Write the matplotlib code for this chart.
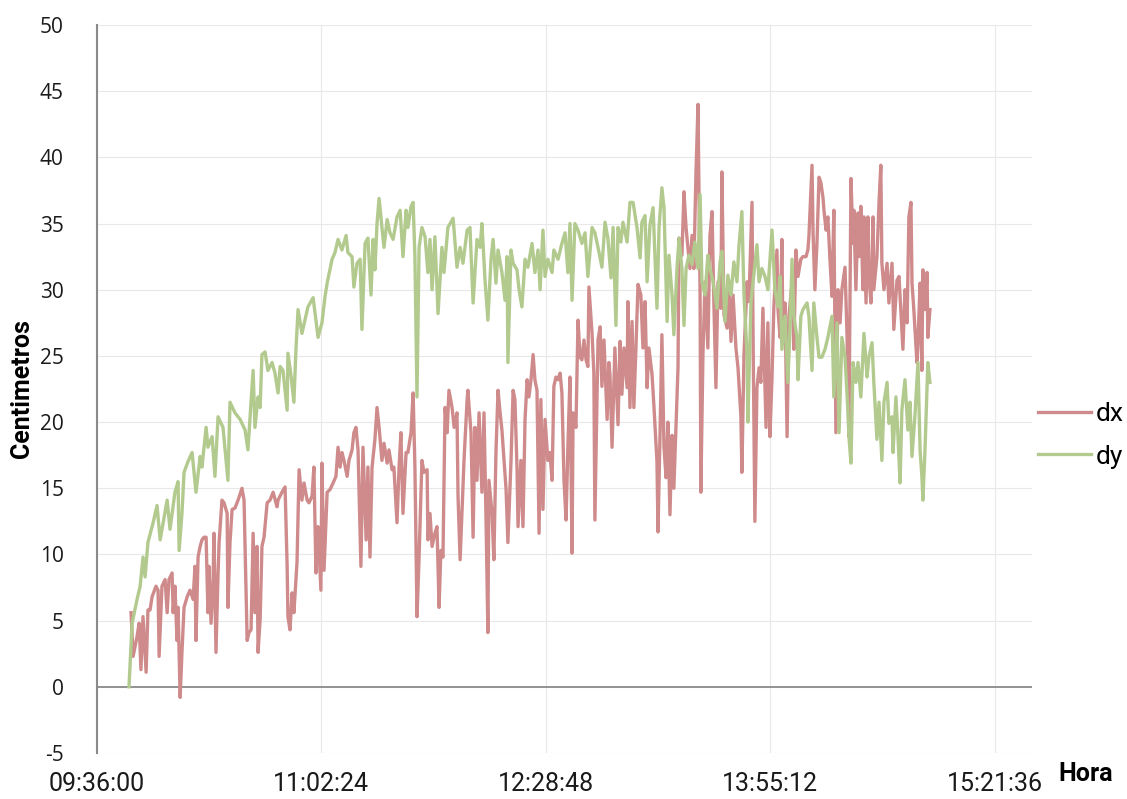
"""
Distances dx / dy (cm) logged over the session, plotted against clock time.
"""
import matplotlib
matplotlib.use("Agg")
import matplotlib.pyplot as plt
from matplotlib.ticker import FuncFormatter, MultipleLocator
from matplotlib.lines import Line2D

plt.rcParams['axes.unicode_minus'] = False

START_SEC = 9 * 3600 + 36 * 60  # 09:36:00, origin of the time axis

# minutes after 09:36:00 and distance in cm
dx_min = [13.1, 13.9, 15.4, 16.2, 16.9, 17.7, 18.9, 19.6, 20.4, 21.2, 22.7, 23.5, 23.9, 25.0, 26.2, 27.0,
          27.7, 28.9, 29.3, 30.0, 30.8, 31.2, 32.0, 32.7, 33.5, 34.7, 35.8, 37.0, 37.7, 38.1, 38.9, 39.7,
          40.4, 41.2, 42.0, 42.7, 43.1, 43.9, 44.7, 45.0, 45.8, 46.6, 47.0, 48.1, 48.9, 50.1, 50.4, 51.2,
          52.0, 53.1, 54.3, 55.8, 56.6, 57.8, 58.5, 59.3, 60.1, 60.8, 61.6, 62.0, 62.8, 63.5, 64.3, 65.5,
          66.6, 67.8, 69.3, 69.7, 71.2, 72.4, 73.2, 73.5, 74.3, 75.1, 75.8, 77.0, 77.8, 78.9, 79.7, 80.9,
          81.6, 82.8, 83.5, 84.3, 85.1, 86.2, 86.6, 87.4, 88.6, 89.7, 90.9, 92.0, 92.8, 93.6, 94.3, 95.1,
          96.3, 97.0, 98.2, 98.9, 99.7, 100.5, 101.6, 102.4, 103.6, 104.3, 105.1, 105.9, 107.0, 107.8,
          108.6, 109.7, 110.5, 111.7, 112.4, 113.6, 114.3, 115.5, 116.3, 117.0, 117.8, 119.0, 119.7,
          120.9, 121.7, 122.4, 123.2, 124.0, 125.1, 125.9, 127.1, 127.4, 128.2, 129.0, 130.1, 130.9,
          131.7, 132.4, 133.2, 134.0, 134.8, 135.5, 136.7, 137.5, 138.6, 139.0, 139.8, 140.5, 141.3,
          142.5, 142.8, 144.0, 144.8, 145.5, 146.3, 147.1, 148.2, 149.0, 149.8, 150.5, 150.9, 152.1,
          152.8, 153.6, 154.4, 155.2, 155.9, 156.7, 157.5, 158.2, 159.4, 160.2, 160.9, 161.7, 162.1,
          163.2, 164.0, 164.8, 165.6, 166.3, 167.1, 167.9, 168.6, 169.4, 170.2, 170.9, 171.7, 172.5,
          173.6, 174.4, 175.2, 175.9, 176.7, 177.5, 178.3, 179.0, 179.8, 180.6, 181.3, 182.1, 182.9,
          183.3, 184.4, 185.2, 186.0, 186.7, 187.5, 188.3, 189.0, 189.4, 190.6, 191.3, 191.7, 192.9,
          193.7, 194.4, 195.2, 196.4, 197.1, 197.5, 198.3, 199.4, 200.6, 201.4, 202.1, 202.9, 204.1,
          204.4, 205.2, 206.0, 206.7, 207.5, 208.3, 209.4, 210.2, 211.0, 211.8, 212.5, 213.7, 214.4,
          215.6, 216.0, 216.8, 217.5, 218.3, 219.1, 219.8, 220.6, 221.4, 222.1, 222.9, 223.7, 224.1,
          225.2, 226.0, 226.8, 227.5, 228.3, 229.1, 229.8, 230.6, 231.4, 232.2, 232.5, 233.3, 234.1,
          235.2, 236.0, 236.8, 237.5, 238.3, 239.1, 240.2, 240.6, 241.4, 242.6, 243.3, 244.1, 244.9,
          246.0, 246.8, 247.9, 248.3, 249.1, 250.3, 251.0, 252.2, 252.6, 253.3, 254.1, 254.9, 255.6,
          256.4, 257.6, 258.3, 259.1, 259.9, 260.6, 261.8, 262.2, 263.0, 263.7, 264.1, 264.9, 265.7,
          266.4, 267.6, 268.3, 269.1, 269.9, 271.0, 271.8, 273.0, 273.7, 274.1, 275.3, 275.7, 276.4,
          277.2, 278.0, 278.7, 279.5, 279.9, 280.7, 281.4, 282.2, 283.0, 283.7, 284.5, 285.3, 286.1,
          286.8, 288.0, 288.8, 289.5, 290.3, 291.1, 291.4, 292.2, 293.0, 293.4, 294.1, 294.9, 295.3,
          296.1, 296.8, 297.2, 298.0, 298.8, 299.1, 300.3, 301.1, 301.8, 302.2, 303.0, 304.2, 304.9,
          306.1, 306.8, 308.0, 308.8, 309.5, 310.3, 311.1, 311.9, 312.6, 313.4, 313.8, 314.5, 315.7,
          316.1, 316.9, 317.6, 318.0, 318.8, 319.6, 319.9, 320.7]
dx_cm = [5.6, 2.3, 3.8, 4.8, 1.3, 5.3, 1.1, 5.8, 5.8, 6.8, 7.6, 7.3, 2.3, 7.6, 8.1, 5.6,
         8.1, 8.6, 5.6, 7.6, 3.5, 6.0, -0.8, 2.6, 6.0, 6.8, 7.3, 6.6, 9.1, 3.5, 9.8, 10.6,
         11.1, 11.3, 11.3, 5.6, 9.1, 4.8, 8.1, 11.6, 2.6, 8.6, 10.9, 14.1, 13.9, 13.1, 6.0, 10.9,
         13.4, 13.5, 14.1, 15.0, 14.1, 3.5, 4.1, 4.3, 11.6, 5.6, 10.6, 2.6, 5.1, 10.6, 11.3, 13.9,
         14.1, 14.7, 13.6, 14.1, 14.7, 15.1, 9.1, 5.3, 4.3, 7.1, 5.6, 9.4, 16.4, 14.1, 15.4, 14.1,
         13.9, 14.4, 16.6, 8.6, 12.1, 7.3, 16.9, 8.8, 14.7, 14.9, 15.4, 15.9, 18.1, 16.6, 17.7, 17.1,
         15.9, 17.1, 17.9, 19.2, 19.6, 17.9, 9.1, 18.1, 11.1, 16.6, 9.8, 16.6, 18.7, 21.1,
         19.6, 17.1, 18.4, 16.9, 17.9, 16.4, 16.6, 12.4, 16.6, 19.2, 13.1, 17.7, 17.7,
         19.2, 22.2, 16.6, 5.3, 9.8, 17.1, 16.2, 16.4, 11.1, 13.1, 10.6, 11.6, 12.1,
         6.0, 10.3, 9.8, 21.1, 19.2, 22.4, 21.1, 19.6, 20.7, 14.4, 9.6, 13.1, 17.1,
         21.7, 22.4, 19.2, 11.3, 19.6, 15.6, 20.7, 14.7, 20.7, 12.4, 4.1, 15.6, 13.1,
         9.6, 17.7, 22.4, 20.7, 19.4, 17.1, 14.9, 10.9, 17.1, 22.4, 21.7, 16.6, 12.1,
         17.1, 12.1, 20.2, 23.2, 21.9, 23.2, 25.1, 23.2, 22.4, 11.6, 21.7, 13.4, 20.2,
         17.1, 17.7, 15.6, 22.7, 23.4, 23.2, 23.7, 22.2, 15.6, 12.6, 18.1, 23.4, 10.1,
         20.7, 19.6, 27.7, 24.9, 24.7, 26.2, 24.7, 24.2, 30.2, 26.7, 23.7, 12.6, 26.2,
         27.2, 22.7, 26.2, 20.2, 24.5, 23.6, 18.1, 25.6, 19.8, 26.1, 22.1, 25.6, 22.6,
         29.1, 21.1, 27.6, 21.1, 25.6, 30.4, 29.6, 25.6, 29.1, 22.6, 25.6, 23.6, 21.3,
         17.0, 11.7, 19.3, 26.6, 18.1, 15.8, 20.0, 13.0, 19.0, 15.0, 19.6, 24.1, 33.9,
         32.6, 37.4, 34.7, 33.2, 31.6, 34.1, 31.6, 38.7, 44.0, 29.6, 14.7, 25.1, 30.6,
         25.6, 34.1, 35.9, 29.1, 22.6, 30.6, 28.6, 38.9, 28.1, 27.1, 30.6, 26.1, 29.6,
         25.6, 24.1, 20.5, 16.2, 25.1, 30.6, 29.1, 36.6, 26.6, 12.5, 22.6, 24.1, 23.0,
         28.6, 19.6, 27.5, 18.9, 23.4, 28.7, 33.0, 28.5, 26.4, 33.8, 26.4, 29.0, 18.9,
         28.0, 30.5, 25.5, 33.0, 31.0, 32.3, 32.5, 32.5, 33.0, 34.0, 39.4, 34.3, 30.0,
         33.5, 38.5, 38.1, 37.0, 36.0, 34.5, 35.5, 32.3, 29.5, 36.0, 19.2, 30.0, 27.5,
         30.0, 31.7, 26.4, 18.9, 38.4, 33.5, 36.0, 30.0, 35.8, 32.5, 36.3, 30.0, 35.5,
         29.0, 35.5, 31.0, 29.0, 35.5, 30.0, 32.5, 36.6, 39.4, 32.0, 30.0, 32.0, 29.0,
         32.0, 27.0, 30.7, 31.0, 28.5, 25.5, 30.0, 27.5, 35.5, 36.6, 30.5, 28.5, 24.5,
         26.0, 30.5, 23.9, 31.5, 28.5, 31.3, 26.4, 28.5]

dy_min = [12.3, 13.5, 15.4, 16.6, 17.7, 18.5, 19.6, 21.6, 23.1, 24.3, 27.0, 28.1, 30.0, 31.2, 31.6, 32.7,
          33.5, 35.0, 36.6, 38.1, 39.7, 40.4, 42.0, 42.7, 44.3, 45.4, 46.6, 48.5, 50.4, 51.2, 53.1, 55.1,
          57.0, 58.1, 60.1, 60.8, 62.0, 62.8, 63.5, 64.7, 65.8, 67.4, 68.5, 69.7, 70.5, 71.6, 73.2, 73.5,
          74.7, 75.8, 76.6, 77.4, 78.9, 81.2, 83.2, 85.1, 86.6, 87.8, 88.6, 90.5, 91.6, 92.8, 94.3, 95.9,
          96.6, 98.2, 98.9, 100.1, 101.3, 102.0, 103.2, 104.3, 105.5, 106.3, 107.0, 107.8, 108.6, 109.7,
          110.5, 111.7, 112.8, 114.0, 115.5, 116.7, 117.8, 119.0, 119.7, 120.9, 121.7, 122.4, 123.2,
          124.0, 125.1, 126.3, 127.4, 128.2, 129.0, 130.1, 131.3, 132.8, 133.6, 135.1, 137.1, 138.6,
          139.8, 140.9, 142.5, 143.6, 144.8, 146.3, 147.5, 148.2, 149.4, 150.5, 151.7, 152.5, 153.6,
          154.4, 155.9, 157.1, 157.9, 158.2, 159.4, 160.2, 161.7, 162.5, 163.6, 164.8, 165.9, 167.5,
          168.6, 169.8, 170.6, 171.7, 172.5, 173.6, 175.2, 175.9, 177.5, 179.0, 180.2, 181.3, 182.1,
          182.9, 184.0, 185.2, 186.7, 187.9, 189.0, 190.6, 191.7, 192.9, 194.4, 195.6, 196.7, 197.9,
          198.7, 199.8, 200.6, 201.7, 202.5, 204.1, 205.2, 206.4, 207.9, 209.1, 209.8, 211.0, 211.8,
          212.9, 214.1, 215.6, 216.4, 217.5, 218.3, 219.5, 220.2, 221.4, 222.1, 223.3, 224.1, 225.2,
          226.0, 226.8, 227.9, 229.1, 230.2, 231.4, 232.2, 232.9, 234.1, 235.2, 236.0, 237.2, 238.7,
          239.9, 240.6, 241.8, 242.9, 244.1, 245.2, 246.4, 247.2, 248.3, 249.1, 250.3, 250.6, 251.8,
          252.6, 254.1, 254.9, 256.0, 257.2, 258.3, 259.9, 261.0, 262.2, 263.0, 263.7, 264.9, 266.0,
          266.8, 267.6, 268.3, 269.5, 269.9, 271.0, 271.8, 273.4, 274.1, 275.3, 276.0, 277.2, 278.0,
          279.1, 280.3, 281.4, 283.0, 283.7, 284.9, 285.7, 286.8, 288.0, 289.1, 289.5, 290.3, 291.1,
          292.2, 293.0, 294.1, 295.3, 296.5, 297.2, 298.4, 299.1, 300.3, 301.1, 302.2, 303.0, 304.2,
          304.9, 306.1, 306.5, 307.6, 308.4, 309.2, 309.9, 311.1, 312.2, 313.0, 313.8, 314.9, 316.1,
          316.9, 317.6, 318.0, 318.8, 319.9, 320.7]
dy_cm = [0.0, 4.8, 6.6, 7.6, 9.8, 8.3, 10.9, 12.4, 13.7, 11.1, 14.1, 11.9, 14.7, 15.5, 10.3, 13.1,
         16.2, 17.0, 17.7, 14.7, 17.4, 16.6, 19.6, 18.1, 18.9, 15.9, 20.4, 19.6, 15.6, 21.5, 20.7, 20.2,
         19.4, 17.9, 23.9, 19.6, 21.9, 21.1, 25.1, 25.3, 23.9, 24.5, 23.7, 22.2, 24.2, 23.9, 20.9, 25.2,
         23.5, 21.5, 25.5, 28.5, 26.7, 28.7, 29.4, 26.4, 27.5, 29.5, 30.5, 32.3, 32.8, 33.8, 33.0, 34.1,
         32.8, 32.5, 30.2, 32.0, 32.3, 27.0, 33.5, 33.9, 29.6, 33.8, 31.5, 35.0, 36.9, 34.7,
         33.2, 35.3, 34.3, 33.8, 35.5, 36.0, 32.5, 36.0, 34.7, 36.3, 36.6, 32.5, 21.9,
         33.2, 34.7, 34.0, 31.3, 33.8, 30.0, 34.0, 28.2, 33.2, 31.3, 34.7, 35.4, 31.7,
         33.2, 32.0, 34.5, 34.7, 29.0, 33.8, 33.2, 35.0, 30.7, 27.7, 32.3, 33.8, 30.5,
         33.0, 31.3, 29.2, 32.5, 24.5, 33.0, 32.0, 31.5, 30.0, 28.7, 32.3, 31.7, 33.5,
         31.3, 33.0, 30.0, 34.5, 31.0, 32.3, 31.3, 33.0, 32.3, 33.5, 34.3, 31.3, 35.0,
         29.2, 35.0, 34.5, 33.5, 34.3, 31.0, 34.7, 34.3, 33.2, 31.7, 35.1, 33.9, 30.9,
         34.7, 27.3, 34.7, 33.6, 35.1, 33.6, 36.6, 36.6, 34.7, 32.4, 35.1, 35.6, 30.6,
         34.9, 36.2, 28.6, 34.7, 37.7, 36.2, 27.6, 32.6, 29.6, 26.6, 31.6, 33.9, 31.6,
         27.3, 31.6, 32.6, 31.9, 33.6, 31.6, 37.2, 30.6, 29.6, 32.6, 31.6, 30.6, 28.6,
         32.1, 32.9, 27.6, 31.1, 29.6, 32.1, 30.6, 33.4, 35.9, 29.6, 25.1, 20.0, 29.1,
         30.6, 33.4, 30.6, 31.6, 31.0, 30.0, 34.5, 30.0, 28.7, 31.0, 25.5, 28.0, 23.0,
         27.0, 32.3, 28.0, 26.4, 23.2, 28.0, 28.5, 29.0, 28.0, 23.9, 29.0, 26.4, 24.9,
         24.9, 25.5, 26.4, 28.0, 21.9, 27.5, 19.2, 26.4, 24.9, 20.9, 18.9, 16.9, 24.5,
         23.0, 24.5, 21.9, 26.7, 23.4, 24.9, 26.0, 23.0, 18.7, 21.5, 17.1, 21.5, 23.0,
         19.9, 20.4, 17.7, 21.9, 18.9, 15.4, 20.9, 23.2, 19.4, 21.5, 17.4, 20.4, 24.5,
         17.9, 15.9, 14.1, 17.9, 24.5, 23.0]

x_ticks = [0, 86.4, 172.8, 259.2, 345.6]

RED = '#cf8b8b'
GREEN = '#b2ca8e'
COND = ['Roboto', 'DejaVu Sans']


def clock(m, pos=None):
    """Minutes after 09:36 -> HH:MM:SS"""
    s = int(round(START_SEC + m * 60))
    return f'{s // 3600:02d}:{s % 3600 // 60:02d}:{s % 60:02d}'


def main():
    fig = plt.figure(figsize=(11.27, 7.99), dpi=100)
    ax = fig.add_axes([0.0861, 0.0576, 0.8296, 0.9111])

    ax.plot(dx_min, dx_cm, color=RED, lw=2.4, solid_joinstyle='round', zorder=3)
    ax.plot(dy_min, dy_cm, color=GREEN, lw=2.4, solid_joinstyle='round', zorder=4)

    ax.set_xlim(0, 360)
    ax.set_ylim(-5, 50)
    ax.set_xticks(x_ticks)
    ax.xaxis.set_major_formatter(FuncFormatter(clock))
    ax.yaxis.set_major_locator(MultipleLocator(5))

    # light grid, darker zero line
    ax.grid(True, color='#e8e8e8', lw=0.8, zorder=0)
    ax.axhline(0, color='#8a8a8a', lw=1.3, zorder=2)
    for side in ['top', 'right', 'bottom']:
        ax.spines[side].set_visible(False)
    ax.spines['left'].set_color('#8a8a8a')
    ax.spines['left'].set_linewidth(1.5)
    ax.tick_params(length=0)
    ax.tick_params(axis='y', pad=24)
    ax.tick_params(axis='x', pad=14)

    for lab in ax.get_yticklabels():
        lab.set_fontfamily(['Open Sans', 'DejaVu Sans'])
        lab.set_fontsize(15)
        lab.set_color('#1a1a1a')
    for lab in ax.get_xticklabels():
        lab.set_fontfamily(COND)
        lab.set_fontsize(18)
        lab.set_color('#1a1a1a')

    fig.text(0.0195, 0.514, 'Centimetros', rotation=90, ha='center', va='center',
             family=COND, fontsize=18, fontweight='bold')
    fig.text(0.963, 0.031, 'Hora', ha='center', va='center',
             family=COND, fontsize=18, fontweight='bold')

    handles = [Line2D([], [], color=RED, lw=2.4), Line2D([], [], color=GREEN, lw=2.4)]
    fig.legend(handles, ['dx', 'dy'], loc='center left', bbox_to_anchor=(0.921, 0.455),
               frameon=False, prop={'family': COND, 'size': 19},
               borderpad=0, borderaxespad=0,
               handlelength=2.0, handletextpad=0.2, labelspacing=0.7)

    fig.savefig('out.png', dpi=100)


if __name__ == '__main__':
    main()
